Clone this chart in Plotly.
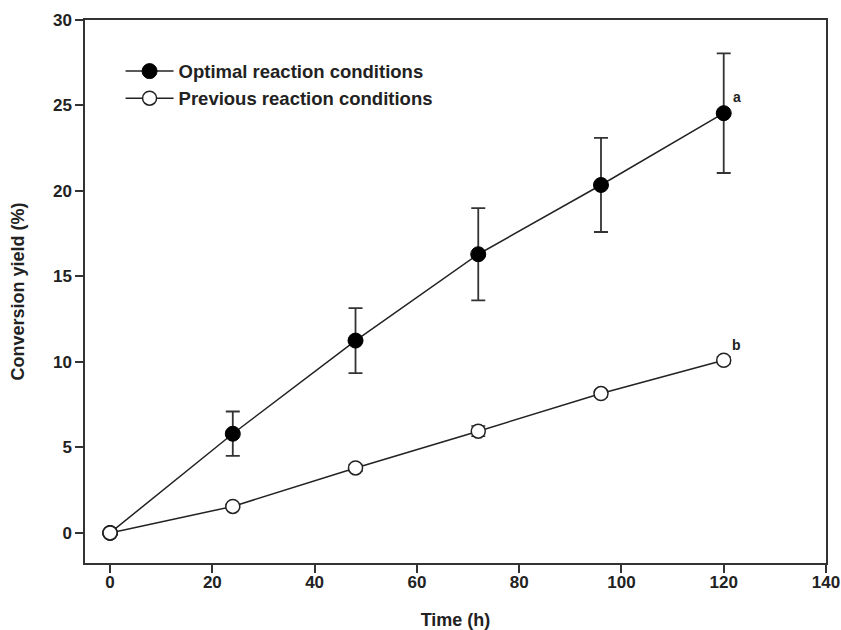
import plotly.graph_objects as go

time_h = [0, 24, 48, 72, 96, 120]
optimal = [0, 5.8, 11.25, 16.3, 20.35, 24.55]
optimal_err = [0, 1.3, 1.9, 2.7, 2.75, 3.5]
previous = [0, 1.55, 3.8, 5.95, 8.15, 10.1]
previous_err = [0, 0.1, 0.2, 0.3, 0.2, 0.2]

labels = ["a", "b"]
label_x = [122.5, 122.5]
label_y = [25.5, 11.0]

FONT = "Liberation Sans, Arial, sans-serif"
INK = "#222222"

fig = go.Figure()
fig.add_trace(go.Scatter(
    x=time_h, y=optimal, name="Optimal reaction conditions",
    mode="lines+markers",
    line=dict(color=INK, width=1.5),
    marker=dict(symbol="circle", size=15, color="black", line=dict(color="black", width=1)),
    error_y=dict(type="data", array=optimal_err, visible=True, color="#333333", thickness=1.8, width=7),
))
fig.add_trace(go.Scatter(
    x=time_h, y=previous, name="Previous reaction conditions",
    mode="lines+markers",
    line=dict(color=INK, width=1.5),
    marker=dict(symbol="circle", size=14, color="white", line=dict(color=INK, width=1.5)),
    error_y=dict(type="data", array=previous_err, visible=True, color="#333333", thickness=1.5, width=7),
))

for t, xx, yy in zip(labels, label_x, label_y):
    fig.add_annotation(x=xx, y=yy, text="<b>%s</b>" % t, showarrow=False,
                       font=dict(family=FONT, size=14, color=INK))

axis_common = dict(
    showline=True, linecolor="#333333", linewidth=1.5, mirror=True,
    ticks="outside", ticklen=8, tickwidth=1.5, tickcolor="#333333",
    showgrid=False, zeroline=False, automargin=False,
    tickfont=dict(family=FONT, size=17, color=INK, weight="bold"),
)

fig.update_layout(
    width=841, height=630,
    margin=dict(l=85, r=15, t=20, b=67),
    paper_bgcolor="white", plot_bgcolor="white",
    font=dict(family=FONT, color=INK),
    xaxis=dict(range=[-4.9, 140], tickvals=[0, 20, 40, 60, 80, 100, 120, 140],
               ticklabelstandoff=-5,
               title=dict(text="Time (h)", font=dict(family=FONT, size=18, color=INK, weight="bold"), standoff=22),
               **axis_common),
    yaxis=dict(range=[-1.76, 30], tickvals=[0, 5, 10, 15, 20, 25, 30],
               title=dict(text="Conversion yield (%)", font=dict(family=FONT, size=18, color=INK, weight="bold"), standoff=24),
               **axis_common),
    showlegend=True,
    legend=dict(x=0.048, y=0.94, xanchor="left", yanchor="top",
                bgcolor="rgba(0,0,0,0)", borderwidth=0,
                font=dict(family=FONT, size=18.5, color=INK, weight="bold"),
                itemwidth=48, tracegroupgap=0),
)

fig.write_html("out.html", config={"displayModeBar": False},
               post_script="document.body.style.margin='0';document.body.style.overflow='hidden';")
